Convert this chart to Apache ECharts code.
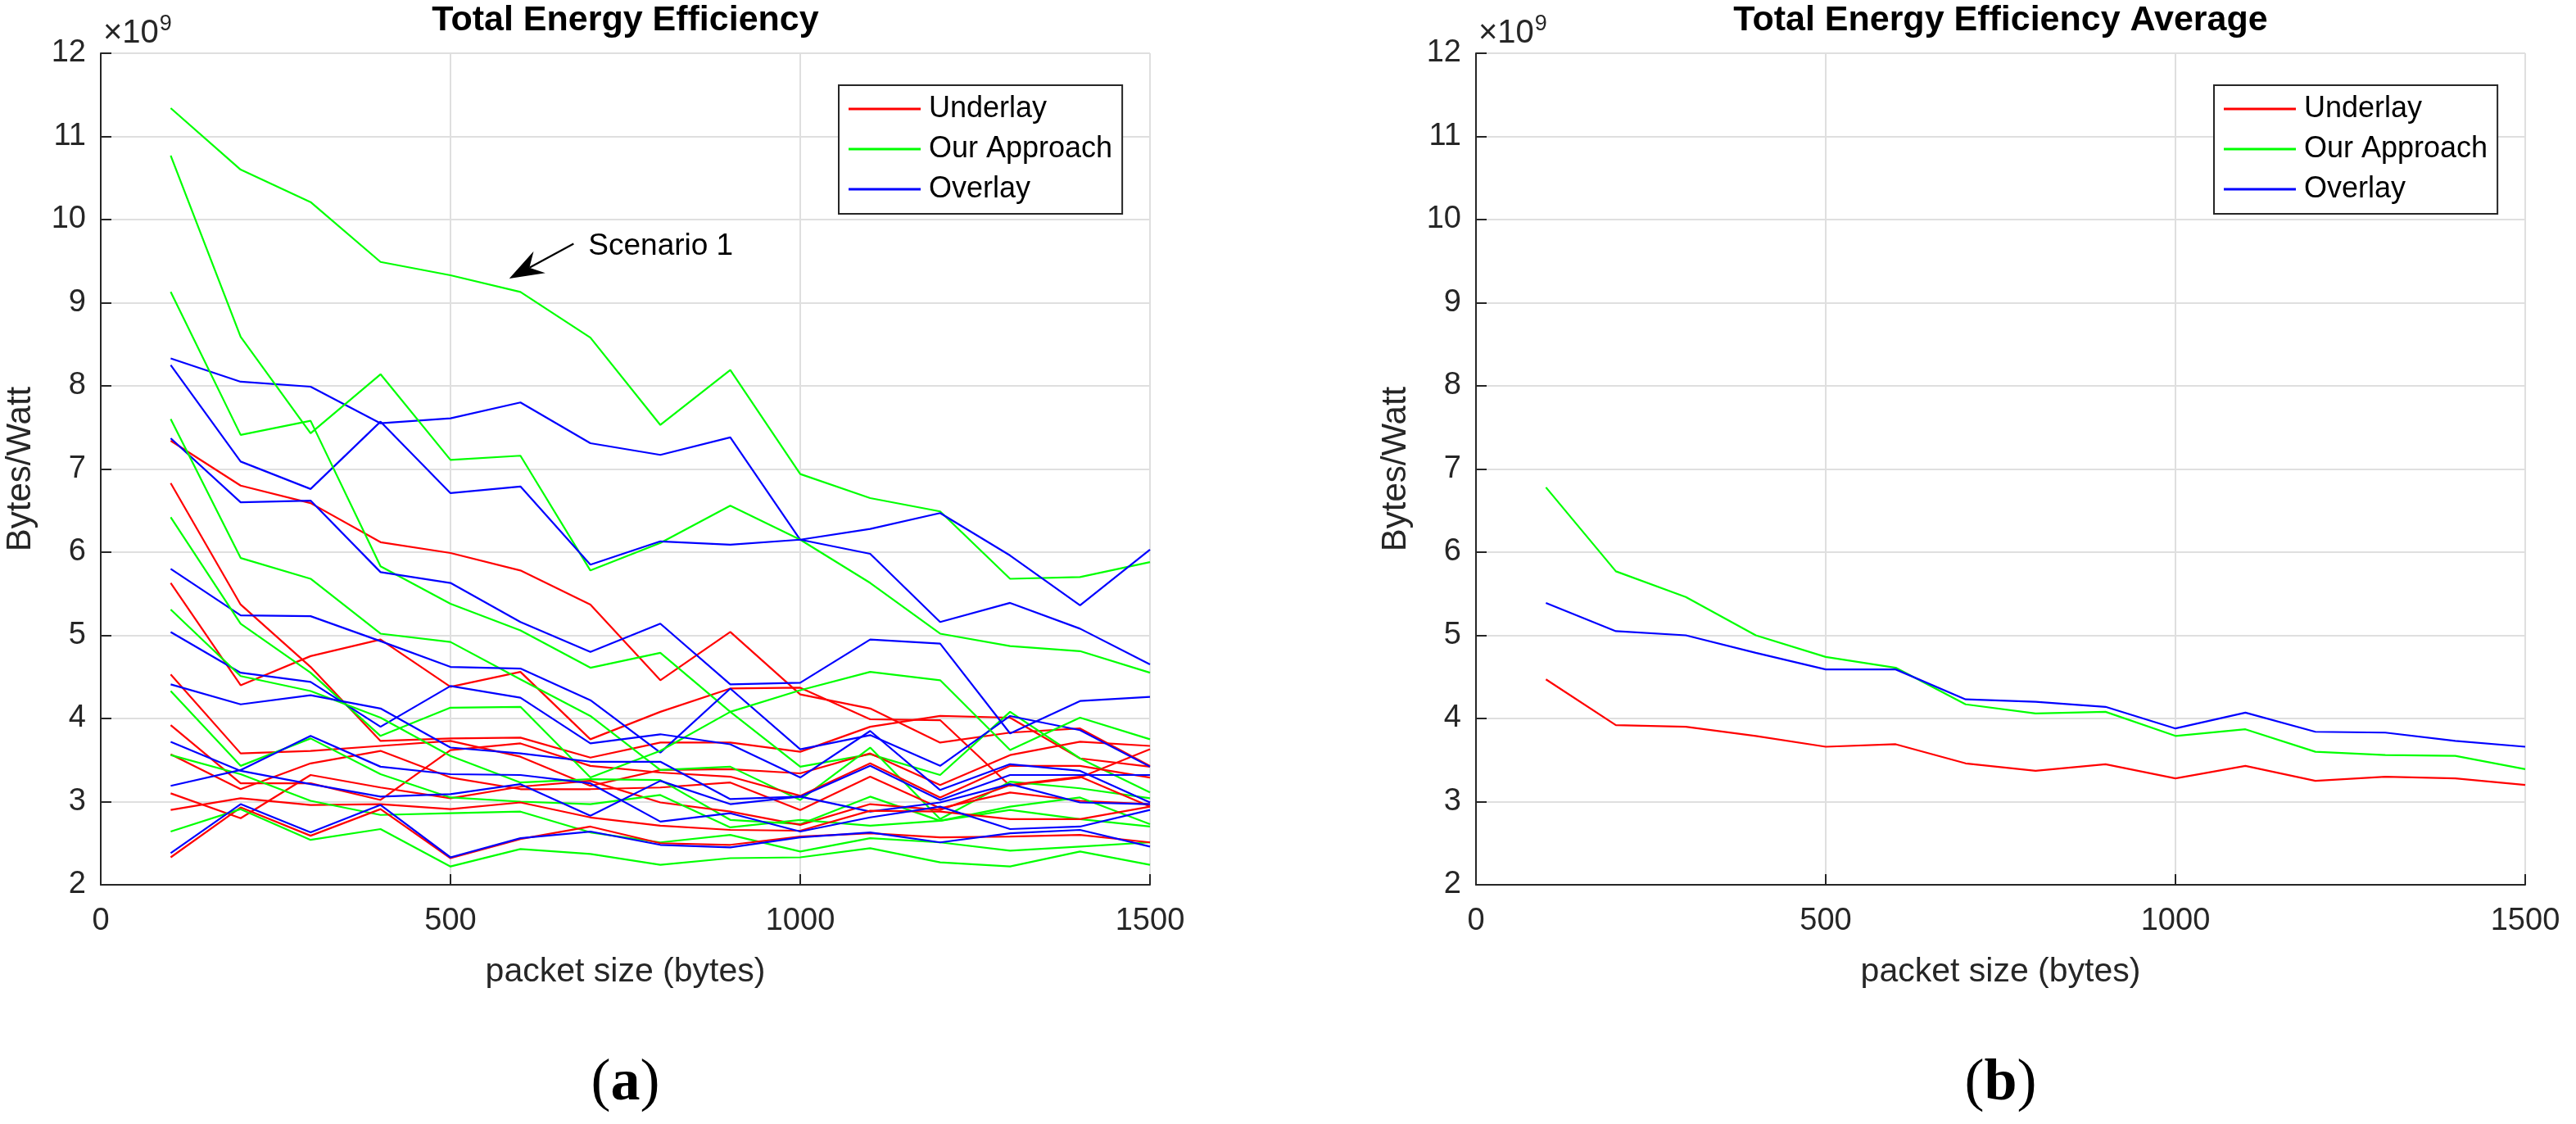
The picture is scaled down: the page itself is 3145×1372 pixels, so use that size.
<!DOCTYPE html>
<html>
<head>
<meta charset="utf-8">
<script src="https://cdn.jsdelivr.net/npm/echarts@6/dist/echarts.min.js"></script>
<style>
html,body{margin:0;padding:0;background:#ffffff;}
#chart{width:3145px;height:1372px;}
</style>
</head>
<body>
<div id="chart"></div>
<script>
// ---------- data (Bytes/Watt, in units of 1e9) ----------
const packetSizes = [100,200,300,400,500,600,700,800,900,1000,1100,1200,1300,1400,1500];
const xTicks = [0,500,1000,1500];
const yTicks = [2,3,4,5,6,7,8,9,10,11,12];

const underlayRuns = [
  [7.34,6.80,6.59,6.12,5.99,5.78,5.37,4.46,5.04,4.29,4.12,3.71,3.83,3.88,3.43],
  [6.83,5.37,4.62,3.73,3.76,3.77,3.53,3.71,3.71,3.60,3.90,4.03,4.01,3.52,3.42],
  [5.63,4.40,4.75,4.95,4.38,4.56,3.75,4.08,4.36,4.37,3.99,3.98,3.19,3.29,3.63],
  [4.53,3.58,3.61,3.67,3.73,3.54,3.19,3.38,3.39,3.34,3.58,3.20,3.56,3.72,3.67],
  [3.92,3.22,3.22,3.02,3.62,3.70,3.43,3.35,3.30,3.07,3.46,3.05,3.43,3.43,3.29],
  [3.57,3.15,3.46,3.61,3.29,3.15,3.15,3.17,3.23,2.90,3.30,2.92,3.11,3.01,2.97],
  [3.10,2.80,3.32,3.17,3.04,3.18,3.25,2.99,2.88,2.72,2.97,2.90,3.20,3.30,2.94],
  [2.90,3.04,2.96,2.97,2.91,2.99,2.81,2.71,2.66,2.65,2.89,2.88,2.79,2.79,2.94],
  [2.33,2.93,2.59,2.91,2.32,2.55,2.70,2.50,2.48,2.58,2.62,2.57,2.58,2.60,2.51]
];
const approachRuns = [
  [11.34,10.60,10.21,9.49,9.33,9.13,8.58,7.53,8.19,6.94,6.65,6.49,5.68,5.70,5.88],
  [10.77,8.59,7.43,8.14,7.11,7.16,5.78,6.11,6.56,6.15,5.63,5.02,4.87,4.81,4.55],
  [9.13,7.41,7.58,5.83,5.38,5.06,4.61,4.79,4.08,3.42,3.57,3.32,4.08,3.52,3.11],
  [7.60,5.93,5.68,5.02,4.92,4.47,4.03,3.38,3.42,3.02,3.65,2.79,3.24,3.16,3.04],
  [6.42,5.14,4.55,3.79,4.13,4.14,3.29,3.61,4.08,4.34,4.56,4.46,3.62,4.01,3.75],
  [5.31,4.51,4.33,4.01,3.55,3.23,3.27,3.26,2.78,2.73,3.06,2.77,2.94,3.05,2.73],
  [4.33,3.43,3.76,3.33,3.05,3.00,2.97,3.08,2.69,2.78,2.71,2.77,2.90,2.79,2.70],
  [3.56,3.33,3.01,2.84,2.86,2.88,2.63,2.51,2.60,2.40,2.56,2.51,2.41,2.46,2.51],
  [2.64,2.91,2.54,2.67,2.22,2.43,2.37,2.24,2.32,2.33,2.44,2.27,2.22,2.40,2.24]
];
const overlayRuns = [
  [8.33,8.05,7.99,7.55,7.61,7.80,7.31,7.17,7.38,6.15,6.28,6.47,5.96,5.36,6.03],
  [8.25,7.09,6.76,7.57,6.71,6.79,5.85,6.13,6.09,6.15,5.98,5.16,5.39,5.08,4.65],
  [7.37,6.60,6.62,5.76,5.63,5.16,4.80,5.14,4.41,4.43,4.95,4.90,3.82,4.21,4.26],
  [5.80,5.24,5.23,4.93,4.62,4.60,4.22,3.59,4.36,3.63,3.80,3.43,4.03,3.86,3.42],
  [5.04,4.55,4.44,3.90,4.39,4.25,3.70,3.81,3.69,3.29,3.85,3.14,3.45,3.37,2.99],
  [4.41,4.17,4.28,4.12,3.65,3.58,3.48,3.48,3.03,3.06,3.43,3.02,3.32,3.32,3.32],
  [3.72,3.37,3.21,3.06,3.09,3.21,2.83,3.25,2.97,3.06,2.88,2.99,3.21,2.99,2.97],
  [3.19,3.38,3.79,3.42,3.33,3.32,3.22,2.76,2.86,2.64,2.81,2.94,2.67,2.70,2.90],
  [2.38,2.97,2.63,2.96,2.33,2.56,2.64,2.48,2.45,2.57,2.63,2.51,2.62,2.66,2.46]
];

const underlayAverage = [4.47,3.92,3.90,3.79,3.66,3.69,3.46,3.37,3.45,3.28,3.43,3.25,3.30,3.28,3.20];
const approachAverage = [6.78,5.77,5.46,5.00,4.74,4.61,4.17,4.06,4.08,3.79,3.87,3.60,3.56,3.55,3.39];
const overlayAverage  = [5.39,5.05,5.00,4.79,4.59,4.59,4.23,4.20,4.14,3.88,4.07,3.84,3.83,3.73,3.66];

const seriesNames = ['Underlay','Our Approach','Overlay'];
const titles = ['Total Energy Efficiency','Total Energy Efficiency Average'];
const captions = ['a','b'];
const annotationText = 'Scenario 1';
const arrowFrom = [676, 9.71];
const arrowTo = [584, 9.29];

// ---------- styling ----------
const COLORS = {'Underlay':'#ff0000','Our Approach':'#00ff00','Overlay':'#0000ff'};
const FONT = 'Liberation Sans, Arial, Helvetica, sans-serif';
const SERIF = 'Liberation Serif, Times New Roman, serif';
const AX = '#262626';
const GRIDC = '#dfdfdf';

const grids = [
  {left:123, top:65, width:1281, height:1015},
  {left:1802, top:65, width:1281, height:1015}
];

function makeX(i){
  return {
    gridIndex:i, type:'value', min:xTicks[0], max:xTicks[xTicks.length-1], interval:500,
    name:'packet size (bytes)', nameLocation:'middle', nameGap:86,
    nameTextStyle:{fontSize:41, color:AX, fontFamily:FONT},
    axisLine:{show:true, onZero:false, lineStyle:{color:AX, width:2}},
    axisTick:{show:true, inside:true, length:13, lineStyle:{color:AX, width:2}},
    axisLabel:{fontSize:38, color:AX, margin:26, fontFamily:FONT, formatter:(v)=>String(v)},
    splitLine:{show:true, lineStyle:{color:GRIDC, width:2}}
  };
}
function makeY(i){
  return {
    gridIndex:i, type:'value', min:yTicks[0], max:yTicks[yTicks.length-1], interval:1,
    name:'Bytes/Watt', nameLocation:'middle', nameGap:77,
    nameTextStyle:{fontSize:42, color:AX, fontFamily:FONT},
    axisLine:{show:true, onZero:false, lineStyle:{color:AX, width:2}},
    axisTick:{show:true, inside:true, length:13, lineStyle:{color:AX, width:2}},
    axisLabel:{fontSize:38, color:AX, margin:18, fontFamily:FONT, formatter:(v)=>String(v)},
    splitLine:{show:true, lineStyle:{color:GRIDC, width:2}}
  };
}
function lineSeries(name, values, gi, width){
  return {
    type:'line', name:name, xAxisIndex:gi, yAxisIndex:gi,
    data: packetSizes.map((x,k)=>[x, values[k]]),
    showSymbol:false, symbol:'none', silent:true,
    lineStyle:{color:COLORS[name], width:width},
    itemStyle:{color:COLORS[name]},
    emphasis:{disabled:true}
  };
}

const series = [];
for (let k=0; k<underlayRuns.length; k++){
  series.push(lineSeries('Underlay', underlayRuns[k], 0, 2.2));
  series.push(lineSeries('Our Approach', approachRuns[k], 0, 2.2));
  series.push(lineSeries('Overlay', overlayRuns[k], 0, 2.2));
}
series.push(lineSeries('Underlay', underlayAverage, 1, 2.2));
series.push(lineSeries('Our Approach', approachAverage, 1, 2.2));
series.push(lineSeries('Overlay', overlayAverage, 1, 2.2));

function makeLegend(left){
  return {
    left:left, top:104, orient:'vertical',
    data: seriesNames.map(n=>({name:n, icon:'rect', itemStyle:{color:COLORS[n]}})),
    itemWidth:88, itemHeight:3, itemGap:13,
    padding:[11,12,12,12],
    borderColor:AX, borderWidth:2, backgroundColor:'#ffffff',
    selectedMode:false,
    textStyle:{fontSize:36, lineHeight:36, color:'#000000', fontFamily:FONT, padding:[0,0,0,5]}
  };
}

const chart = echarts.init(document.getElementById('chart'), null, {renderer:'canvas'});
chart.setOption({
  backgroundColor:'#ffffff',
  animation:false,
  grid: grids,
  xAxis: [makeX(0), makeX(1)],
  yAxis: [makeY(0), makeY(1)],
  legend: [makeLegend(1024), makeLegend(2703)],
  series: series
});

// ---------- annotations ----------
const measureCtx = document.createElement('canvas').getContext('2d');
function textWidth(t, size){
  measureCtx.font = size + 'px "Liberation Sans", Arial, sans-serif';
  return measureCtx.measureText(t).width;
}
function txt(x, y, text, size, opts){
  return {type:'text', x:x, y:y, z:10, style:Object.assign({
    text:text, fontSize:size, fontFamily:FONT, fill:'#000',
    textAlign:'left', textVerticalAlign:'bottom'}, opts||{})};
}
function buildGraphics(){
  const g = [];
  grids.forEach((gr, i)=>{
    const cx = gr.left + gr.width/2;
    g.push(txt(cx, 47, titles[i], 43, {fontWeight:'bold', textAlign:'center'}));
    const baseX = gr.left + 3;
    g.push(txt(baseX, 61, '\u00d710', 40, {fill:AX}));
    g.push(txt(baseX + textWidth('\u00d710', 40) + 1, 43, '9', 27, {fill:AX}));
    g.push({type:'text', x:cx, y:1323, z:10, style:{
      text:'{p|(}{b|'+captions[i]+'}{p|)}',
      rich:{p:{fontSize:72, fontFamily:SERIF, fill:'#000'},
            b:{fontSize:72, fontWeight:'bold', fontFamily:SERIF, fill:'#000'}},
      textAlign:'center', textVerticalAlign:'middle'}});
  });
  const p0 = chart.convertToPixel({gridIndex:0}, arrowFrom);
  const p1 = chart.convertToPixel({gridIndex:0}, arrowTo);
  const dx = p1[0]-p0[0], dy = p1[1]-p0[1];
  const len = Math.sqrt(dx*dx+dy*dy);
  const ux = dx/len, uy = dy/len, nx = -uy, ny = ux;
  const L = 42, W = 15, N = 28;
  const base = [p1[0]-ux*L, p1[1]-uy*L];
  const notch = [p1[0]-ux*N, p1[1]-uy*N];
  g.push({type:'line', z:10, shape:{x1:p0[0], y1:p0[1], x2:notch[0], y2:notch[1]}, style:{stroke:'#000', lineWidth:2.2}});
  g.push({type:'polygon', z:10, shape:{points:[p1, [base[0]+nx*W, base[1]+ny*W], notch, [base[0]-nx*W, base[1]-ny*W]]}, style:{fill:'#000'}});
  g.push(txt(p0[0]+18, p0[1]+3, annotationText, 37, {textVerticalAlign:'middle'}));
  return g;
}
chart.setOption({graphic: buildGraphics()});
</script>
</body>
</html>
